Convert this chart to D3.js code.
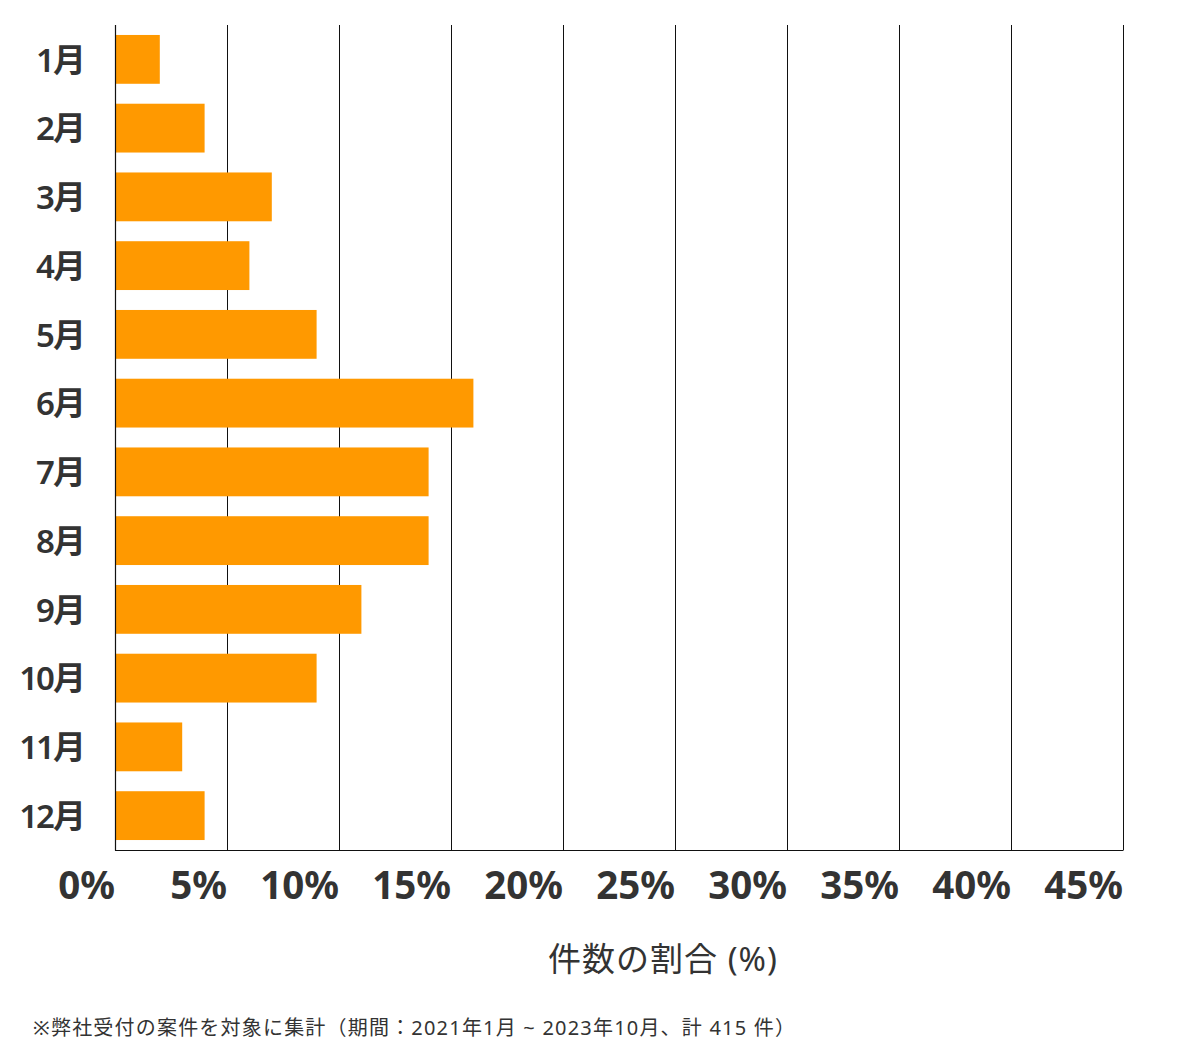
<!DOCTYPE html>
<html><head><meta charset="utf-8">
<script src="https://cdn.jsdelivr.net/npm/d3@7"></script>
<style>
body{margin:0;background:#fff;}
svg{display:block;font-family:"Noto Sans","Noto Sans CJK JP",sans-serif;}
</style></head>
<body>
<svg id="chart" width="1200" height="1060"></svg>
<script>
const months = ["1月","2月","3月","4月","5月","6月","7月","8月","9月","10月","11月","12月"];
const shares = [2,4,7,6,9,16,14,14,11,9,3,4];
const ticks = [0,5,10,15,20,25,30,35,40,45];
const axisTitle = "件数の割合 (%)";
const footnote = "※弊社受付の案件を対象に集計（期間：2021年1月 ~ 2023年10月、計 415 件）";

(function(){
const svg = d3.select("#chart");
const mL = 115, mR = 1123, mT = 25, mB = 850;
const x = d3.scaleLinear().domain([0,45]).range([mL,mR]);
const y = d3.scaleBand().domain(months).range([mT,mB]).paddingInner(0.29).paddingOuter(0.145);

// gridlines
svg.append("g").selectAll("line").data(ticks.slice(1)).join("line")
  .attr("x1",d=>Math.round(x(d))+0.5).attr("x2",d=>Math.round(x(d))+0.5)
  .attr("y1",mT).attr("y2",mB)
  .attr("stroke","#111").attr("stroke-width",1);

// bars
svg.append("g").selectAll("rect").data(shares).join("rect")
  .attr("x",x(0)).attr("y",(d,i)=>y(months[i]))
  .attr("width",d=>x(d)-x(0)).attr("height",y.bandwidth())
  .attr("fill","#FF9900");

// axes lines
svg.append("line").attr("x1",mL+0.5).attr("x2",mL+0.5).attr("y1",mT).attr("y2",mB+0.5)
  .attr("stroke","#111").attr("stroke-width",1.2);
svg.append("line").attr("x1",mL).attr("x2",mR+0.5).attr("y1",mB+0.5).attr("y2",mB+0.5)
  .attr("stroke","#111").attr("stroke-width",1.2);

// month labels
svg.append("g").selectAll("text").data(months).join("text")
  .attr("x",84).attr("y",d=>y(d)+y.bandwidth()/2)
  .attr("dy","0.37em").attr("text-anchor","end")
  .attr("font-size",33).attr("font-weight",600).attr("fill","#333")
  .attr("letter-spacing",-2)
  .text(d=>d);

// tick labels
svg.append("g").selectAll("text").data(ticks).join("text")
  .attr("x",d=>x(d)).attr("y",899)
  .attr("text-anchor","end")
  .attr("font-size",38.5).attr("font-weight",700).attr("fill","#333")
  .text(d=>d+"%");

svg.append("text").attr("x",663).attr("y",971).attr("text-anchor","middle")
  .attr("font-size",33).attr("letter-spacing",1).attr("fill","#333").text(axisTitle);

svg.append("text").attr("x",33).attr("y",1035).attr("text-anchor","start")
  .attr("font-size",20).attr("letter-spacing",1.2).attr("fill","#333").text(footnote);
})();
</script>
</body></html>
